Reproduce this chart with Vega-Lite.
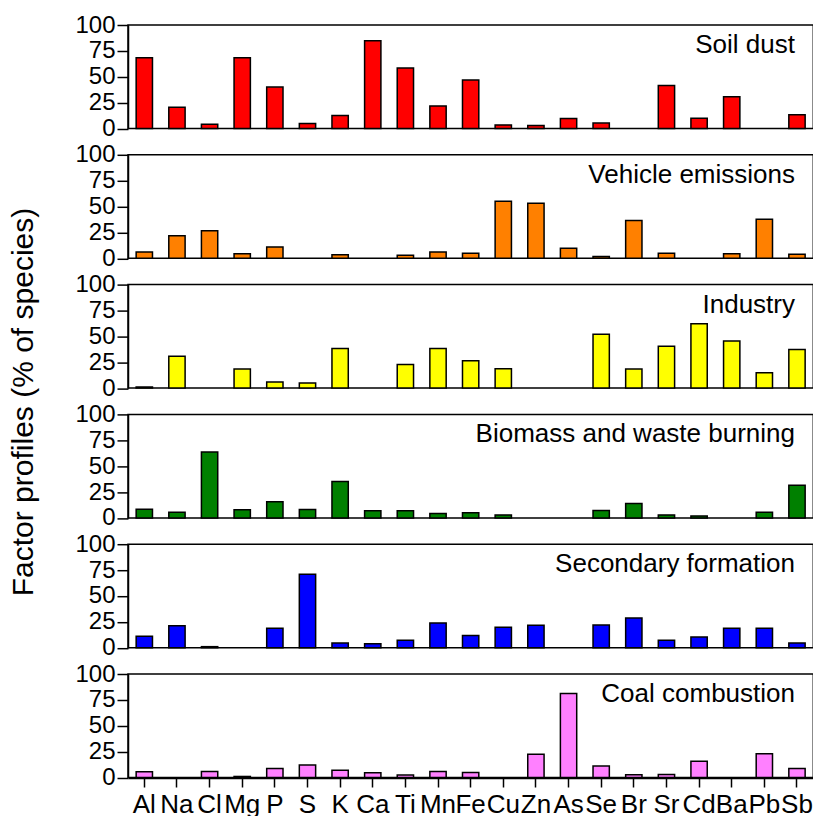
{
  "$schema": "https://vega.github.io/schema/vega-lite/v6.json",
  "padding": {"left": 8, "top": 13, "right": 0, "bottom": 0},
  "background": "white",
  "bounds": "flush",
  "data": {"values": [
    {"source": "Soil dust", "species": "Al", "value": 68.4},
    {"source": "Soil dust", "species": "Na", "value": 20.6},
    {"source": "Soil dust", "species": "Cl", "value": 4.2},
    {"source": "Soil dust", "species": "Mg", "value": 68.4},
    {"source": "Soil dust", "species": "P", "value": 40},
    {"source": "Soil dust", "species": "S", "value": 4.8},
    {"source": "Soil dust", "species": "K", "value": 12.6},
    {"source": "Soil dust", "species": "Ca", "value": 84.8},
    {"source": "Soil dust", "species": "Ti", "value": 58.4},
    {"source": "Soil dust", "species": "Mn", "value": 21.8},
    {"source": "Soil dust", "species": "Fe", "value": 46.8},
    {"source": "Soil dust", "species": "Cu", "value": 3.5},
    {"source": "Soil dust", "species": "Zn", "value": 2.9},
    {"source": "Soil dust", "species": "As", "value": 9.7},
    {"source": "Soil dust", "species": "Se", "value": 5.2},
    {"source": "Soil dust", "species": "Sr", "value": 41.6},
    {"source": "Soil dust", "species": "Cd", "value": 10},
    {"source": "Soil dust", "species": "Ba", "value": 30.6},
    {"source": "Soil dust", "species": "Sb", "value": 13.2},
    {"source": "Vehicle emissions", "species": "Al", "value": 6.1},
    {"source": "Vehicle emissions", "species": "Na", "value": 21.9},
    {"source": "Vehicle emissions", "species": "Cl", "value": 26.5},
    {"source": "Vehicle emissions", "species": "Mg", "value": 4.5},
    {"source": "Vehicle emissions", "species": "P", "value": 11},
    {"source": "Vehicle emissions", "species": "K", "value": 3.5},
    {"source": "Vehicle emissions", "species": "Ti", "value": 2.9},
    {"source": "Vehicle emissions", "species": "Mn", "value": 6.1},
    {"source": "Vehicle emissions", "species": "Fe", "value": 4.8},
    {"source": "Vehicle emissions", "species": "Cu", "value": 55.2},
    {"source": "Vehicle emissions", "species": "Zn", "value": 53.2},
    {"source": "Vehicle emissions", "species": "As", "value": 9.7},
    {"source": "Vehicle emissions", "species": "Se", "value": 1.8},
    {"source": "Vehicle emissions", "species": "Br", "value": 36.5},
    {"source": "Vehicle emissions", "species": "Sr", "value": 4.8},
    {"source": "Vehicle emissions", "species": "Ba", "value": 4.5},
    {"source": "Vehicle emissions", "species": "Pb", "value": 37.7},
    {"source": "Vehicle emissions", "species": "Sb", "value": 3.9},
    {"source": "Industry", "species": "Al", "value": 1},
    {"source": "Industry", "species": "Na", "value": 30.7},
    {"source": "Industry", "species": "Mg", "value": 18.4},
    {"source": "Industry", "species": "P", "value": 5.8},
    {"source": "Industry", "species": "S", "value": 4.9},
    {"source": "Industry", "species": "K", "value": 38.2},
    {"source": "Industry", "species": "Ti", "value": 22.9},
    {"source": "Industry", "species": "Mn", "value": 38.2},
    {"source": "Industry", "species": "Fe", "value": 26.5},
    {"source": "Industry", "species": "Cu", "value": 18.8},
    {"source": "Industry", "species": "Se", "value": 52},
    {"source": "Industry", "species": "Br", "value": 18.4},
    {"source": "Industry", "species": "Sr", "value": 40.5},
    {"source": "Industry", "species": "Cd", "value": 62.1},
    {"source": "Industry", "species": "Ba", "value": 45.6},
    {"source": "Industry", "species": "Pb", "value": 14.9},
    {"source": "Industry", "species": "Sb", "value": 37.2},
    {"source": "Biomass and waste burning", "species": "Al", "value": 8.4},
    {"source": "Biomass and waste burning", "species": "Na", "value": 5.5},
    {"source": "Biomass and waste burning", "species": "Cl", "value": 63.6},
    {"source": "Biomass and waste burning", "species": "Mg", "value": 7.8},
    {"source": "Biomass and waste burning", "species": "P", "value": 15.6},
    {"source": "Biomass and waste burning", "species": "S", "value": 8.1},
    {"source": "Biomass and waste burning", "species": "K", "value": 35.1},
    {"source": "Biomass and waste burning", "species": "Ca", "value": 6.8},
    {"source": "Biomass and waste burning", "species": "Ti", "value": 6.8},
    {"source": "Biomass and waste burning", "species": "Mn", "value": 4.2},
    {"source": "Biomass and waste burning", "species": "Fe", "value": 4.9},
    {"source": "Biomass and waste burning", "species": "Cu", "value": 2.9},
    {"source": "Biomass and waste burning", "species": "Se", "value": 7.1},
    {"source": "Biomass and waste burning", "species": "Br", "value": 14},
    {"source": "Biomass and waste burning", "species": "Sr", "value": 2.9},
    {"source": "Biomass and waste burning", "species": "Cd", "value": 1.9},
    {"source": "Biomass and waste burning", "species": "Pb", "value": 5.5},
    {"source": "Biomass and waste burning", "species": "Sb", "value": 31.5},
    {"source": "Secondary formation", "species": "Al", "value": 11},
    {"source": "Secondary formation", "species": "Na", "value": 21.3},
    {"source": "Secondary formation", "species": "Cl", "value": 1},
    {"source": "Secondary formation", "species": "P", "value": 18.7},
    {"source": "Secondary formation", "species": "S", "value": 71},
    {"source": "Secondary formation", "species": "K", "value": 4.5},
    {"source": "Secondary formation", "species": "Ca", "value": 3.9},
    {"source": "Secondary formation", "species": "Ti", "value": 7.1},
    {"source": "Secondary formation", "species": "Mn", "value": 23.9},
    {"source": "Secondary formation", "species": "Fe", "value": 11.9},
    {"source": "Secondary formation", "species": "Cu", "value": 19.7},
    {"source": "Secondary formation", "species": "Zn", "value": 21.6},
    {"source": "Secondary formation", "species": "Se", "value": 21.9},
    {"source": "Secondary formation", "species": "Br", "value": 28.7},
    {"source": "Secondary formation", "species": "Sr", "value": 7.1},
    {"source": "Secondary formation", "species": "Cd", "value": 10.3},
    {"source": "Secondary formation", "species": "Ba", "value": 18.7},
    {"source": "Secondary formation", "species": "Pb", "value": 18.7},
    {"source": "Secondary formation", "species": "Sb", "value": 4.5},
    {"source": "Coal combustion", "species": "Al", "value": 5.5},
    {"source": "Coal combustion", "species": "Cl", "value": 5.8},
    {"source": "Coal combustion", "species": "Mg", "value": 1},
    {"source": "Coal combustion", "species": "P", "value": 8.8},
    {"source": "Coal combustion", "species": "S", "value": 12},
    {"source": "Coal combustion", "species": "K", "value": 7.1},
    {"source": "Coal combustion", "species": "Ca", "value": 4.5},
    {"source": "Coal combustion", "species": "Ti", "value": 2.3},
    {"source": "Coal combustion", "species": "Mn", "value": 5.8},
    {"source": "Coal combustion", "species": "Fe", "value": 4.9},
    {"source": "Coal combustion", "species": "Zn", "value": 22.4},
    {"source": "Coal combustion", "species": "As", "value": 81.2},
    {"source": "Coal combustion", "species": "Se", "value": 11},
    {"source": "Coal combustion", "species": "Br", "value": 2.6},
    {"source": "Coal combustion", "species": "Sr", "value": 2.9},
    {"source": "Coal combustion", "species": "Cd", "value": 15.6},
    {"source": "Coal combustion", "species": "Pb", "value": 23},
    {"source": "Coal combustion", "species": "Sb", "value": 8.8}
  ]},
  "facet": {
    "row": {
      "field": "source",
      "type": "nominal",
      "sort": ["Soil dust", "Vehicle emissions", "Industry", "Biomass and waste burning", "Secondary formation", "Coal combustion"],
      "header": {"labels": false, "title": "Factor profiles (% of species)", "titleFontSize": 30, "titleFont": "Liberation Sans", "titleFontWeight": "normal", "titleColor": "black", "titlePadding": 25}
    }
  },
  "spacing": {"row": 25.8},
  "spec": {
    "width": 685.3,
    "height": 103.5,
    "layer": [
      {
        "mark": {"type": "bar", "stroke": "black", "strokeWidth": 1.5},
        "encoding": {
          "x": {"field": "species", "type": "nominal",
                "scale": {"domain": ["Al","Na","Cl","Mg","P","S","K","Ca","Ti","Mn","Fe","Cu","Zn","As","Se","Br","Sr","Cd","Ba","Pb","Sb"], "paddingInner": 0.5, "paddingOuter": 0.25},
                "axis": {"title": null, "labelAngle": 0, "labelFontSize": 26, "labelFont": "Liberation Sans", "labelColor": "black", "tickSize": 9, "tickWidth": 1.5, "tickColor": "black", "domainColor": "black", "domainWidth": 1.5, "labelPadding": 4, "labelOverlap": false, "labelBound": false}},
          "y": {"field": "value", "type": "quantitative",
                "scale": {"domain": [0, 100], "nice": false, "zero": true},
                "axis": {"title": null, "values": [0, 25, 50, 75, 100], "tickCount": 5, "grid": false, "labelOverlap": false, "labelFontSize": 24, "labelFont": "Liberation Sans", "labelColor": "black", "tickSize": 11, "tickWidth": 1.5, "tickColor": "black", "domainColor": "black", "domainWidth": 1.5, "labelPadding": 2}},
          "color": {"field": "source", "type": "nominal", "legend": null,
                    "scale": {"domain": ["Soil dust", "Vehicle emissions", "Industry", "Biomass and waste burning", "Secondary formation", "Coal combustion"],
                              "range": ["#FF0000", "#FF8000", "#FFFF00", "#008000", "#0000FF", "#FF80FF"]}}
        }
      },
      {
        "transform": [{"filter": "datum.species === 'Sb'"}],
        "mark": {"type": "text", "align": "right", "baseline": "alphabetic", "dy": 28, "dx": -2, "fontSize": 26, "font": "Liberation Sans", "color": "black"},
        "encoding": {
          "x": {"field": "species", "type": "nominal"},
          "y": {"datum": 100, "type": "quantitative"},
          "text": {"field": "source"}
        }
      }
    ]
  },
  "config": {
    "view": {"stroke": "black", "strokeWidth": 1.5},
    "axis": {"labelFont": "Liberation Sans"},
    "axisY": {"labelOverlap": false, "tickCount": 5}
  }
}
